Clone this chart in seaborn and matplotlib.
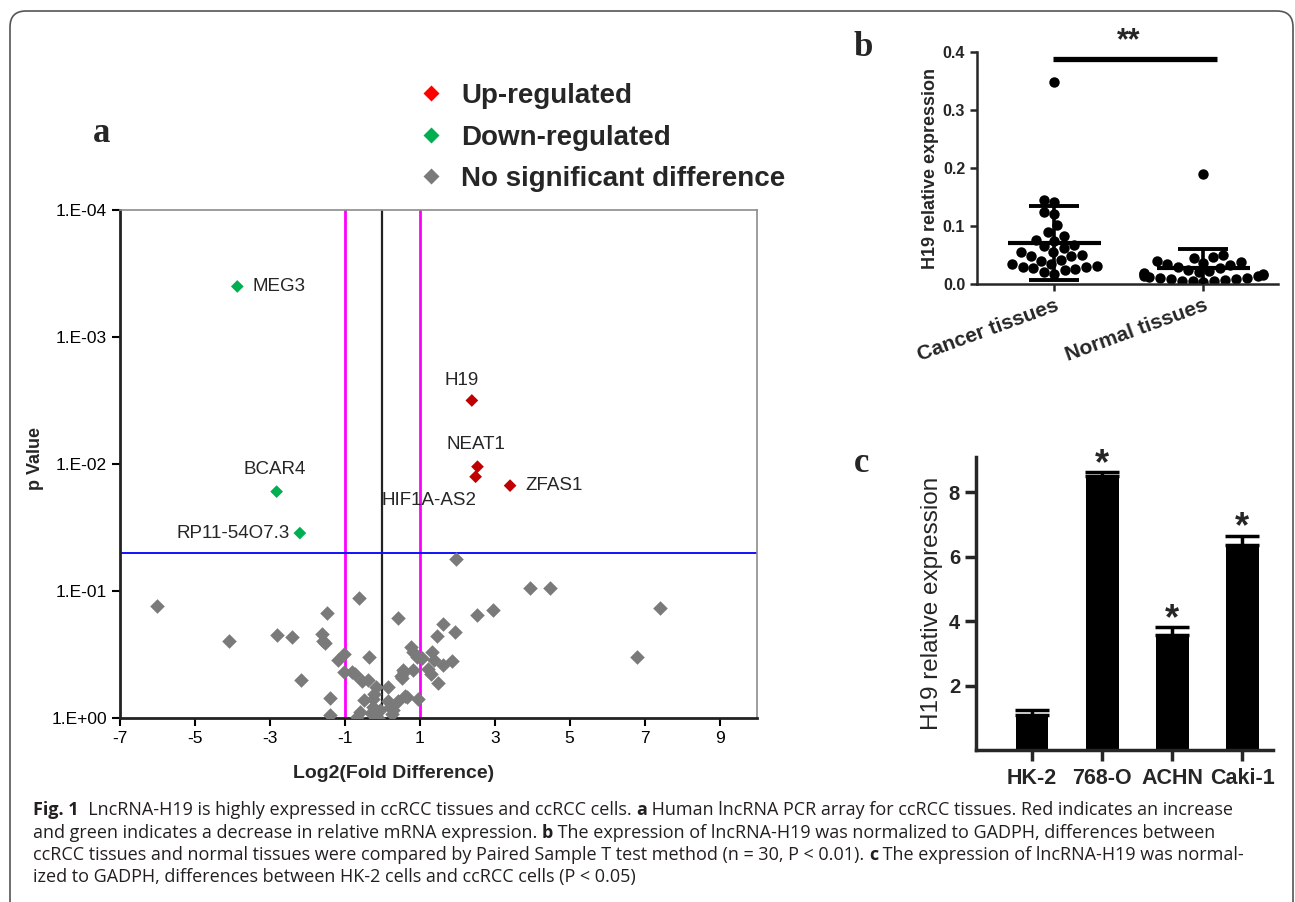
import numpy as np
import pandas as pd
import seaborn as sns
import matplotlib.pyplot as plt
import matplotlib.patches as mpatches
from matplotlib.lines import Line2D
from matplotlib.transforms import IdentityTransform

# ---- panel a: volcano plot values (log2 fold difference, p value) ----
up_genes = ["H19", "NEAT1", "HIF1A-AS2", "ZFAS1"]
up_fc = [2.39, 2.54, 2.49, 3.41]
up_p = [0.00316, 0.0105, 0.0126, 0.0148]

down_genes = ["MEG3", "BCAR4", "RP11-54O7.3"]
down_fc = [-3.87, -2.82, -2.20]
down_p = [0.00040, 0.0165, 0.035]

grey_fc = [1.98, 3.95, 4.47, 7.41, -6.0, -0.61, -1.48, 0.41, 2.53, 2.96, 1.63, 1.93, 1.47,
           -4.10, -2.81, -2.41, -1.60, -1.57, -1.53, 6.79, -1.03, -1.19, -0.35, -1.02, -0.80,
           -0.72, -2.18, -1.40, -1.40, -0.54, -0.37, -0.50, -0.60, -0.67, -0.16, -0.21, -0.24,
           -0.25, -0.30, -0.19, -0.12, 0.16, 0.14, 0.21, 0.28, 0.41, 0.61, 0.65, 0.96, 0.50,
           0.56, 0.59, 0.81, 0.52, 0.77, 0.81, 0.93, 1.05, 1.32, 1.37, 1.23, 1.30, 1.48, 1.63,
           1.85, 0.25, -0.05]
grey_p = [0.056, 0.095, 0.095, 0.135, 0.132, 0.114, 0.150, 0.163, 0.155, 0.140, 0.181, 0.210,
          0.227, 0.247, 0.221, 0.232, 0.219, 0.247, 0.257, 0.332, 0.316, 0.347, 0.332, 0.437,
          0.434, 0.447, 0.50, 0.698, 0.946, 0.509, 0.50, 0.718, 0.889, 0.99, 0.572, 0.646,
          0.713, 0.824, 0.912, 0.977, 0.995, 0.572, 0.733, 0.824, 0.859, 0.733, 0.674, 0.689,
          0.704, 0.467, 0.416, 0.434, 0.416, 0.485, 0.277, 0.303, 0.330, 0.339, 0.303, 0.347,
          0.408, 0.45, 0.527, 0.386, 0.358, 0.927, 0.87]

p_ticks = [1e-4, 1e-3, 1e-2, 1e-1, 1]
p_tick_labels = ["1.E-04", "1.E-03", "1.E-02", "1.E-01", "1.E+00"]
fc_ticks = [-7, -5, -3, -1, 1, 3, 5, 7, 9]

# ---- panel b: H19 expression in tissues ----
cancer_expr = [0.349, 0.145, 0.141, 0.124, 0.120, 0.102, 0.090, 0.083, 0.076, 0.075,
               0.068, 0.065, 0.062, 0.056, 0.055, 0.050, 0.049, 0.048, 0.042, 0.040,
               0.035, 0.034, 0.031, 0.030, 0.029, 0.027, 0.026, 0.025, 0.021, 0.018]
normal_expr = [0.190, 0.050, 0.047, 0.045, 0.040, 0.038, 0.037, 0.035, 0.033, 0.030,
               0.028, 0.025, 0.022, 0.020, 0.019, 0.018, 0.017, 0.015, 0.014, 0.013,
               0.012, 0.011, 0.010, 0.009, 0.008, 0.007, 0.006, 0.005, 0.005, 0.004]
tissue_groups = ["Cancer tissues", "Normal tissues"]

# ---- panel c: H19 expression in cell lines ----
cell_lines = ["HK-2", "768-O", "ACHN", "Caki-1"]
cell_means = [1.09, 8.52, 3.58, 6.37]
cell_errs = [0.15, 0.10, 0.23, 0.29]
cell_stars = ["", "*", "*", "*"]

caption_lines = [
    [("Fig. 1", True), ("  LncRNA-H19 is highly expressed in ccRCC tissues and ccRCC cells. ", False),
     ("a", True), (" Human lncRNA PCR array for ccRCC tissues. Red indicates an increase", False)],
    [("and green indicates a decrease in relative mRNA expression. ", False), ("b", True),
     (" The expression of lncRNA-H19 was normalized to GADPH, differences between", False)],
    [("ccRCC tissues and normal tissues were compared by Paired Sample T test method (n = 30, P < 0.01). ", False),
     ("c", True), (" The expression of lncRNA-H19 was normal-", False)],
    [("ized to GADPH, differences between HK-2 cells and ccRCC cells (P < 0.05)", False)],
]

sns.set_style("ticks")
plt.rcParams["font.family"] = ["Liberation Sans", "DejaVu Sans"]

W, H = 1295, 902
fig = plt.figure(figsize=(W / 100, H / 100), dpi=100)


def fig_rect(left, top, right, bottom):
    return [left / W, 1 - bottom / H, (right - left) / W, (bottom - top) / H]


# rounded frame round the figure
fig.patches.append(mpatches.FancyBboxPatch(
    (10, -30), 1283, H - 11 + 30, boxstyle="round,pad=0,rounding_size=16",
    transform=IdentityTransform(), facecolor="none", edgecolor="#555555", lw=1.2))

# ================= panel a =================
axa = fig.add_axes(fig_rect(120, 210, 757, 718))
volcano = pd.DataFrame({
    "fc": up_fc + down_fc + grey_fc,
    "p": up_p + down_p + grey_p,
    "group": ["up"] * len(up_fc) + ["down"] * len(down_fc) + ["ns"] * len(grey_fc),
})
axa.axvline(-1, color="#ff00ff", lw=2, zorder=1)
axa.axvline(1, color="#ff00ff", lw=2, zorder=1)
axa.axvline(0, color="#222222", lw=1.6, zorder=1)
axa.axhline(0.05, color="#1010ff", lw=1.4, zorder=1)
sns.scatterplot(data=volcano[volcano.group == "ns"], x="fc", y="p", color="#7a7a7a",
                marker="D", s=55, linewidth=0, ax=axa, zorder=3)
sns.scatterplot(data=volcano[volcano.group != "ns"], x="fc", y="p", hue="group",
                palette={"up": "#c00000", "down": "#00b050"}, marker="D", s=42,
                linewidth=0, legend=False, ax=axa, zorder=3)
axa.set_yscale("log")
axa.set_ylim(1, 1e-4)
axa.set_xlim(-7, 10)
axa.set_yticks(p_ticks)
axa.set_yticklabels(p_tick_labels)
axa.minorticks_off()
axa.set_xticks(fc_ticks)
axa.set_xticklabels([str(t) for t in fc_ticks])
axa.tick_params(labelsize=12.5, width=1.5, length=6, colors="black")
for side in ["left", "bottom"]:
    axa.spines[side].set_linewidth(2)
    axa.spines[side].set_color("#222222")
for side in ["top", "right"]:
    axa.spines[side].set_linewidth(1.2)
    axa.spines[side].set_color("#8c8c8c")
axa.set_xlabel("Log2(Fold Difference)", fontsize=14, fontweight="bold")
axa.set_ylabel("p Value", fontsize=13, fontweight="bold")
axa.xaxis.set_label_coords((394 - 120) / 637, -0.092)
axa.yaxis.set_label_coords(-0.12, 0.51)

all_genes = up_genes + down_genes
all_fc = up_fc + down_fc
all_p = up_p + down_p
label_offsets = {
    "MEG3": ((15, 0), "left"), "H19": ((-10, 20), "center"), "NEAT1": ((-2, 22), "center"),
    "HIF1A-AS2": ((-47, -24), "center"), "ZFAS1": ((15, 0), "left"),
    "BCAR4": ((-2, 22), "center"), "RP11-54O7.3": ((-10, 0), "right"),
}
for g, xv, pv in zip(all_genes, all_fc, all_p):
    (dx, dy), ha = label_offsets[g]
    axa.annotate(g, (xv, pv), xytext=(dx * 0.72, dy * 0.72), textcoords="offset points",
                 ha=ha, va="center", fontsize=13.5)

handles = [Line2D([], [], marker="D", color="none", markerfacecolor=c, markeredgecolor="none",
                  markersize=8.5) for c in ["#ff0000", "#00b050", "#7a7a7a"]]
fig.legend(handles, ["Up-regulated", "Down-regulated", "No significant difference"],
           loc="upper left", bbox_to_anchor=(417 / W, 1 - 83 / H), frameon=False,
           prop={"weight": "bold", "size": 20}, handlelength=1.0, handletextpad=0.6,
           labelspacing=0.56, borderpad=0, borderaxespad=0)

# ================= panel b =================
axb = fig.add_axes(fig_rect(977, 52, 1278, 284))
tissue = pd.DataFrame({
    "group": [tissue_groups[0]] * len(cancer_expr) + [tissue_groups[1]] * len(normal_expr),
    "expr": cancer_expr + normal_expr,
})
sns.swarmplot(data=tissue, x="group", y="expr", order=tissue_groups, color="black",
              size=7.5, ax=axb, zorder=2)
for i, vals in enumerate([cancer_expr, normal_expr]):
    m, sd = np.mean(vals), np.std(vals, ddof=1)
    axb.errorbar(i, m, yerr=sd, color="black", lw=2.6, capsize=18, capthick=2.8, zorder=4)
    axb.hlines(m, i - 0.31, i + 0.31, color="black", lw=3, zorder=4)
axb.plot([-0.01, 1.09], [0.388, 0.388], color="black", lw=3.8, solid_capstyle="butt", clip_on=False)
axb.text(0.5, 0.418, "**", ha="center", va="center", fontsize=22, fontweight="bold")
axb.set_xlim(-0.52, 1.5)
axb.set_ylim(0, 0.4)
axb.set_yticks([0.0, 0.1, 0.2, 0.3, 0.4])
axb.set_yticklabels(["0.0", "0.1", "0.2", "0.3", "0.4"], fontweight="bold", fontsize=11.5)
axb.set_xticks([0, 1])
axb.set_xticklabels(tissue_groups, rotation=20, ha="right", rotation_mode="anchor",
                    fontweight="bold", fontsize=15)
axb.tick_params(width=1.8, length=5)
axb.set_xlabel("")
axb.set_ylabel("H19 relative expression", fontsize=13, fontweight="bold", labelpad=3)
sns.despine(ax=axb)
for side in ["left", "bottom"]:
    axb.spines[side].set_linewidth(1.8)

# ================= panel c =================
axc = fig.add_axes(fig_rect(976, 457, 1273, 750))
sns.barplot(x=cell_lines, y=cell_means, color="black", width=0.47, errorbar=None,
            saturation=1, edgecolor="black", linewidth=0, ax=axc, zorder=2)
axc.errorbar(range(len(cell_lines)), cell_means, yerr=[[0] * len(cell_errs), cell_errs],
             fmt="none", ecolor="black", lw=2.5, capsize=12, capthick=2.5, zorder=1)
for i, (m, e, st) in enumerate(zip(cell_means, cell_errs, cell_stars)):
    if st:
        axc.annotate(st, (i, m + e), xytext=(0, -7), textcoords="offset points",
                     ha="center", va="bottom", fontsize=26, fontweight="bold",
                     annotation_clip=False)
axc.set_xlim(-0.8, 3.44)
axc.set_ylim(0, 9.1)
axc.set_yticks([2, 4, 6, 8])
axc.set_yticklabels(["2", "4", "6", "8"], fontweight="bold", fontsize=14.5)
axc.set_xticks(range(len(cell_lines)))
axc.set_xticklabels(cell_lines, fontweight="bold", fontsize=15.5)
axc.tick_params(width=2.5, length=8)
axc.tick_params(axis="x", pad=5)
axc.set_ylabel("H19 relative expression", fontsize=17.5)
sns.despine(ax=axc)
for side in ["left", "bottom"]:
    axc.spines[side].set_linewidth(2.5)

# panel letters
for letter, (px, py) in zip("abc", [(102, 133), (863, 48), (862, 463)]):
    fig.text(px / W, 1 - py / H, letter, ha="center", va="center", fontsize=25,
             fontweight="bold", family="Liberation Serif")

# caption, drawn run by run so bold pieces follow the regular text
renderer = fig.canvas.get_renderer()
baselines = [815, 838, 860, 882]
for runs, base in zip(caption_lines, baselines):
    x = 33
    for txt, bold in runs:
        t = fig.text(x / W, 1 - base / H, txt, fontsize=13, family="Open Sans",
                     fontweight="bold" if bold else "normal", color="#231f20",
                     ha="left", va="baseline")
        x += t.get_window_extent(renderer).width

fig.savefig("out.png", dpi=100)
